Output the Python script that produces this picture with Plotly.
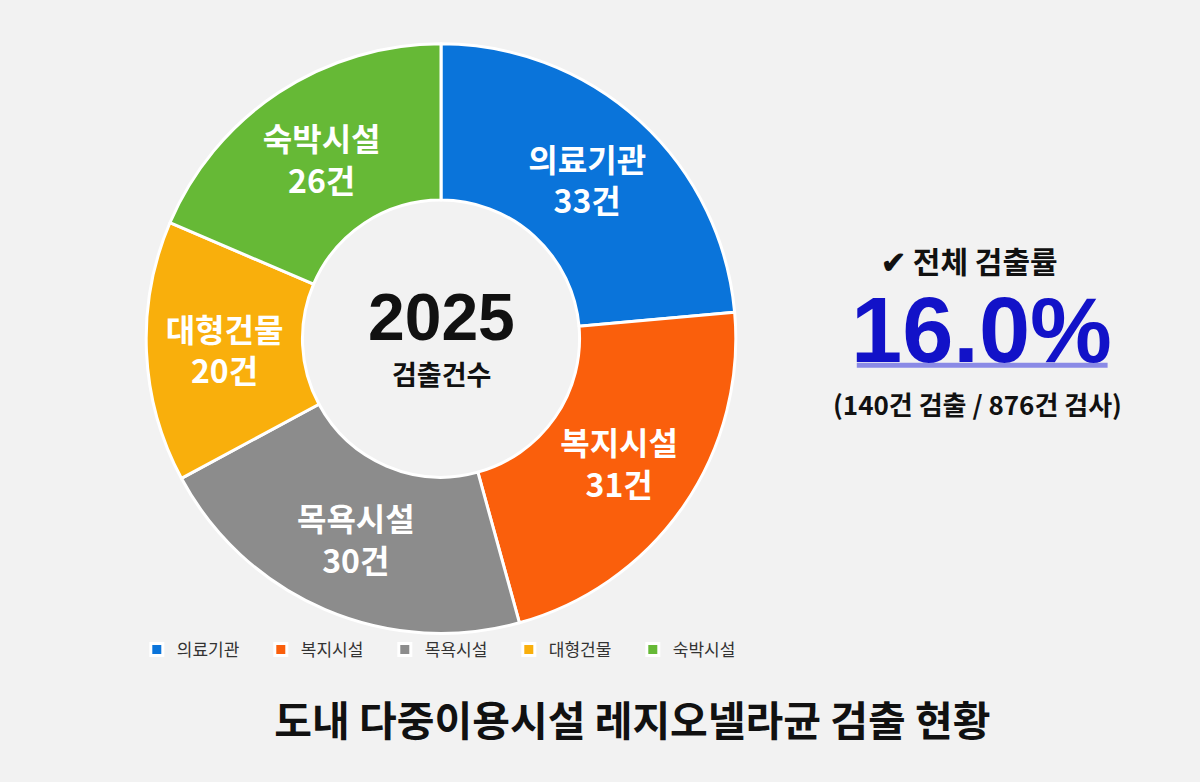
import plotly.graph_objects as go

# 2025 도내 다중이용시설 레지오넬라균 검출 건수
facilities = ["의료기관", "복지시설", "목욕시설", "대형건물", "숙박시설"]
detections = [33, 31, 30, 20, 26]
colors = ["#0A74DA", "#FA5F0C", "#8C8C8C", "#F9AF0C", "#66B936"]

total_detected = 140
total_tested = 876
rate = total_detected / total_tested * 100

KR = "Noto Sans CJK KR"

fig = go.Figure()
fig.add_trace(go.Pie(
    labels=facilities,
    values=detections,
    hole=0.47,
    sort=False,
    direction="clockwise",
    rotation=0,
    marker=dict(colors=colors, line=dict(color="white", width=3)),
    texttemplate="<b>%{label}<br>%{value}건</b>",
    textposition="inside",
    insidetextorientation="horizontal",
    textfont=dict(family=KR, size=32, color="white"),
    hoverinfo="label+value",
    domain=dict(x=[0.1217, 0.6133], y=[0.19, 0.944]),
))

# 도넛 가운데 글자
fig.add_annotation(x=0.3675, y=0.595, xref="paper", yref="paper",
                   xanchor="center", yanchor="middle",
                   text="<b>2025</b>", showarrow=False,
                   font=dict(family="Liberation Sans", size=66, color="#111111"))
fig.add_annotation(x=0.3675, y=0.522, xref="paper", yref="paper",
                   xanchor="center", yanchor="middle",
                   text="<b>검출건수</b>", showarrow=False,
                   font=dict(family=KR, size=27, color="#111111"))

# 오른쪽 검출률
fig.add_annotation(x=0.808, y=0.667, xref="paper", yref="paper",
                   xanchor="center", yanchor="middle",
                   text="<b>✔ 전체 검출률</b>", showarrow=False,
                   font=dict(family=KR, size=30, color="#111111"))
fig.add_annotation(x=0.818, y=0.578, xref="paper", yref="paper",
                   xanchor="center", yanchor="middle",
                   text="<b>%.1f%%</b>" % rate, showarrow=False,
                   font=dict(family="Liberation Sans", size=92, color="#1212C8"))
fig.add_shape(type="line", xref="paper", yref="paper",
              x0=0.714, x1=0.923, y0=0.533, y1=0.533,
              line=dict(color="#8A8AE6", width=5))
fig.add_annotation(x=0.815, y=0.484, xref="paper", yref="paper",
                   xanchor="center", yanchor="middle",
                   text="<b>(%d건 검출 / %d건 검사)</b>" % (total_detected, total_tested),
                   showarrow=False,
                   font=dict(family=KR, size=26, color="#111111"))

fig.update_layout(
    width=1200, height=782,
    margin=dict(l=0, r=0, t=0, b=0),
    paper_bgcolor="#F2F2F2",
    plot_bgcolor="#F2F2F2",
    title=dict(text="<b>도내 다중이용시설 레지오넬라균 검출 현황</b>",
               x=0.527, xanchor="center", y=0.077, yanchor="middle",
               font=dict(family=KR, size=41, color="#111111")),
    legend=dict(orientation="h", x=0.114, xanchor="left", y=0.169, yanchor="middle",
                font=dict(family=KR, size=17, color="#333333"),
                itemwidth=30, entrywidth=79, entrywidthmode="pixels",
                bgcolor="rgba(0,0,0,0)"),
)

fig.write_html("out.html", config={"displayModeBar": False},
               post_script="document.body.style.margin='0';")
